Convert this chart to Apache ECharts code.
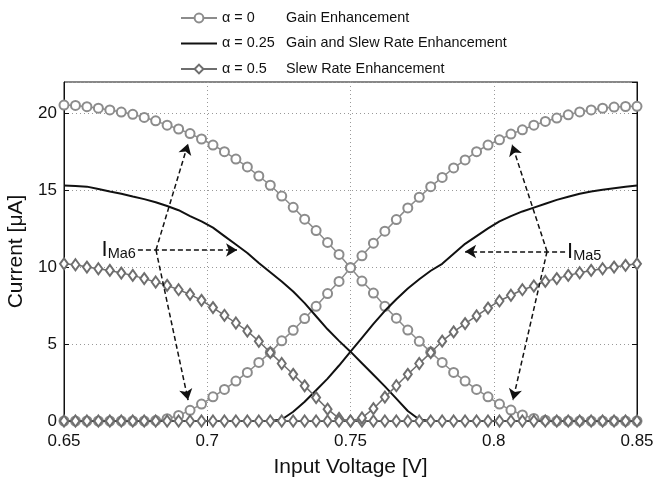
<!DOCTYPE html>
<html>
<head>
<meta charset="utf-8">
<script src="https://cdn.jsdelivr.net/npm/echarts@6/dist/echarts.min.js"></script>
<style>
  html, body { margin: 0; padding: 0; background: #fff; }
  #main { width: 657px; height: 481px; }
</style>
</head>
<body>
<div id="main"></div>
<script>
// 输入电压 (V)
var voltage = [0.650, 0.654, 0.658, 0.662, 0.666, 0.670, 0.674, 0.678, 0.682, 0.686,
               0.690, 0.694, 0.698, 0.702, 0.706, 0.710, 0.714, 0.718, 0.722, 0.726,
               0.730, 0.734, 0.738, 0.742, 0.746, 0.750, 0.754, 0.758, 0.762, 0.766,
               0.770, 0.774, 0.778, 0.782, 0.786, 0.790, 0.794, 0.798, 0.802, 0.806,
               0.810, 0.814, 0.818, 0.822, 0.826, 0.830, 0.834, 0.838, 0.842, 0.846, 0.850];

// α = 0  (IMa6 下降, IMa5 上升)
var a0Ma6 = [20.5, 20.48, 20.4, 20.3, 20.19, 20.05, 19.9, 19.7, 19.48, 19.2,
             18.95, 18.65, 18.3, 17.91, 17.48, 17.0, 16.49, 15.9, 15.3, 14.6,
             13.87, 13.1, 12.36, 11.59, 10.81, 9.95, 9.08, 8.3, 7.44, 6.67,
             5.9, 5.17, 4.47, 3.8, 3.15, 2.59, 2.05, 1.57, 1.1, 0.71,
             0.39, 0.17, 0.05, 0, 0, 0, 0, 0, 0, 0, 0];
var a0Ma5 = [0, 0, 0, 0, 0, 0, 0, 0, 0.03, 0.15,
             0.36, 0.69, 1.1, 1.57, 2.05, 2.59, 3.15, 3.8, 4.45, 5.2,
             5.89, 6.65, 7.44, 8.27, 9.06, 9.95, 10.72, 11.54, 12.32, 13.07,
             13.83, 14.52, 15.21, 15.81, 16.42, 16.94, 17.48, 17.91, 18.25, 18.62,
             18.9, 19.2, 19.44, 19.66, 19.87, 20.06, 20.19, 20.3, 20.37, 20.41, 20.42];

// α = 0.25
var a25Ma6 = [15.28, 15.25, 15.21, 15.05, 14.89, 14.75, 14.57, 14.4, 14.2, 13.95,
              13.68, 13.3, 12.95, 12.55, 12.0, 11.45, 10.9, 10.25, 9.65, 9.05,
              8.4, 7.65, 6.8, 5.95, 5.2, 4.5, 3.75, 3.0, 2.25, 1.45,
              0.65, 0.1, 0, 0, 0, 0, 0, 0, 0, 0,
              0, 0, 0, 0, 0, 0, 0, 0, 0, 0, 0];
var a25Ma5 = [0, 0, 0, 0, 0, 0, 0, 0, 0, 0,
              0, 0, 0, 0, 0, 0, 0, 0, 0, 0.1,
              0.6, 1.25, 2.0, 2.75, 3.6, 4.5, 5.4, 6.3, 7.15, 7.9,
              8.6, 9.2, 9.75, 10.2, 10.85, 11.5, 12.0, 12.5, 12.95, 13.3,
              13.6, 13.85, 14.1, 14.35, 14.55, 14.75, 14.9, 15.0, 15.1, 15.2, 15.28];

// α = 0.5
var a5Ma6 = [10.2, 10.14, 9.99, 9.88, 9.77, 9.6, 9.45, 9.24, 9.02, 8.8,
             8.52, 8.22, 7.83, 7.36, 6.86, 6.36, 5.84, 5.17, 4.44, 3.73,
             3.03, 2.28, 1.52, 0.77, 0.17, 0, 0, 0, 0, 0,
             0, 0, 0, 0, 0, 0, 0, 0, 0, 0,
             0, 0, 0, 0, 0, 0, 0, 0, 0, 0, 0];
var a5Ma5 = [0, 0, 0, 0, 0, 0, 0, 0, 0, 0,
             0, 0, 0, 0, 0, 0, 0, 0, 0, 0,
             0, 0, 0, 0, 0, 0, 0.2, 0.8, 1.55, 2.29,
             3.03, 3.73, 4.44, 5.18, 5.78, 6.32, 6.82, 7.33, 7.79, 8.16,
             8.52, 8.76, 9.06, 9.24, 9.45, 9.62, 9.77, 9.88, 9.99, 10.1, 10.2];

// 图例文字
var legendNames = ['α = 0', 'α = 0.25', 'α = 0.5'];
var legendDesc = ['Gain Enhancement', 'Gain and Slew Rate Enhancement', 'Slew Rate Enhancement'];

// 坐标轴刻度
var xTicks = [0.65, 0.85, 0.05];
var yTicks = [0, 22, 5];

// 标注: 起点, 交点, 三个箭头终点
var ma6Start = [0.6758, 11.1], ma6Join = [0.6821, 11.1];
var ma6Tips = [[0.7104, 11.1], [0.6933, 18.0], [0.6933, 1.36]];
var ma5Start = [0.8249, 11.0], ma5Join = [0.8186, 11.0];
var ma5Tips = [[0.790, 11.0], [0.8064, 17.93], [0.8067, 1.36]];

var FONT = 'Liberation Sans, Arial, sans-serif';
var myChart = echarts.init(document.getElementById('main'));

function pairs(ys) {
    var out = [];
    for (var i = 0; i < voltage.length; i++) out.push([voltage[i], ys[i]]);
    return out;
}

function circleSeries(ys) {
    return {
        name: legendNames[0], type: 'line', data: pairs(ys),
        symbol: 'emptyCircle', symbolSize: 9, showAllSymbol: true,
        lineStyle: { color: '#8c8c8c', width: 1.5 },
        itemStyle: { color: '#8c8c8c', borderWidth: 1.3 },
        animation: false, z: 2
    };
}
function blackSeries(ys) {
    return {
        name: legendNames[1], type: 'line', data: pairs(ys),
        symbol: 'none', showSymbol: false,
        lineStyle: { color: '#111', width: 2 },
        itemStyle: { color: '#111' },
        animation: false, z: 3
    };
}
function diamondSeries(ys) {
    return {
        name: legendNames[2], type: 'line', data: pairs(ys),
        symbol: 'emptyDiamond', symbolSize: [8, 11], showAllSymbol: true,
        lineStyle: { color: '#6e6e6e', width: 1.5 },
        itemStyle: { color: '#6e6e6e', borderWidth: 1.3 },
        animation: false, z: 4
    };
}

function arrowLines(start, join, tips) {
    return [
        [{ coord: start, symbol: 'none' }, { coord: tips[0], symbol: 'arrow' }],
        [{ coord: join, symbol: 'none' }, { coord: tips[1], symbol: 'arrow' }],
        [{ coord: join, symbol: 'none' }, { coord: tips[2], symbol: 'arrow' }]
    ];
}

var annot = {
    name: 'annot', type: 'line', data: [], animation: false, z: 6,
    markLine: {
        silent: true, animation: false,
        symbolSize: [10, 11],
        lineStyle: { color: '#111', width: 1.5, type: [5, 3] },
        label: { show: false },
        data: arrowLines(ma6Start, ma6Join, ma6Tips).concat(arrowLines(ma5Start, ma5Join, ma5Tips))
    },
    markPoint: {
        silent: true, animation: false,
        symbol: 'circle', symbolSize: 0,
        label: {
            show: true, color: '#111', fontFamily: FONT,
            rich: {
                i: { fontSize: 22, lineHeight: 24, fontFamily: FONT, color: '#111' },
                s: { fontSize: 14.5, lineHeight: 15, verticalAlign: 'bottom', fontFamily: FONT, color: '#111' }
            }
        },
        data: [
            { coord: ma6Start, label: { position: 'left', distance: 2, formatter: '{i|I}{s|Ma6}' } },
            { coord: ma5Start, label: { position: 'right', distance: 2, formatter: '{i|I}{s|Ma5}' } }
        ]
    }
};

var option = {
    backgroundColor: '#fff',
    animation: false,
    textStyle: { fontFamily: FONT },
    grid: {
        left: 64, right: 20, top: 82, bottom: 60, outerBoundsMode: 'none',
        show: true, borderColor: '#111', borderWidth: 1
    },
    legend: {
        data: [
            { name: legendNames[0] },
            { name: legendNames[1], itemStyle: { opacity: 0 } },
            { name: legendNames[2] }
        ],
        orient: 'vertical', left: 175, top: 6,
        itemWidth: 36, itemHeight: 11, itemGap: 11.5,
        selectedMode: false,
        formatter: function (name) {
            var k = legendNames.indexOf(name);
            return '{a|' + name + '}{b|' + legendDesc[k] + '}';
        },
        textStyle: {
            fontFamily: FONT, color: '#111',
            rich: {
                a: { width: 64, fontSize: 14.4, lineHeight: 16, fontFamily: FONT, color: '#111' },
                b: { fontSize: 14.4, lineHeight: 16, fontFamily: FONT, color: '#111' }
            }
        }
    },
    xAxis: [{
        type: 'value', min: xTicks[0], max: xTicks[1], interval: xTicks[2],
        name: 'Input Voltage [V]', nameLocation: 'middle', nameGap: 36,
        nameTextStyle: { fontSize: 21, color: '#111', fontFamily: FONT },
        axisLine: { lineStyle: { color: '#111' } },
        axisTick: { inside: true, length: 5, lineStyle: { color: '#111' } },
        axisLabel: { fontSize: 17, color: '#111', margin: 12, fontFamily: FONT },
        splitLine: { show: true, lineStyle: { color: '#999', type: [1, 3] } }
    }, {
        type: 'value', position: 'top', min: xTicks[0], max: xTicks[1], interval: xTicks[2],
        axisLine: { lineStyle: { color: '#111' } },
        axisTick: { inside: true, length: 5, lineStyle: { color: '#111' } },
        axisLabel: { show: false }, splitLine: { show: false }
    }],
    yAxis: [{
        type: 'value', min: yTicks[0], max: yTicks[1], interval: yTicks[2],
        name: 'Current [μA]', nameLocation: 'middle', nameGap: 37,
        nameTextStyle: { fontSize: 21, color: '#111', fontFamily: FONT },
        axisLine: { show: true, lineStyle: { color: '#111' } },
        axisTick: { show: true, inside: true, length: 5, lineStyle: { color: '#111' } },
        axisLabel: { fontSize: 17, color: '#111', margin: 7, fontFamily: FONT, showMaxLabel: false },
        splitLine: { show: true, lineStyle: { color: '#999', type: [1, 3] } }
    }, {
        type: 'value', position: 'right', min: yTicks[0], max: yTicks[1], interval: yTicks[2],
        axisLine: { show: true, lineStyle: { color: '#111' } },
        axisTick: { show: true, inside: true, length: 5, lineStyle: { color: '#111' } },
        axisLabel: { show: false }, splitLine: { show: false }
    }],
    series: [
        circleSeries(a0Ma6), circleSeries(a0Ma5),
        blackSeries(a25Ma6), blackSeries(a25Ma5),
        diamondSeries(a5Ma6), diamondSeries(a5Ma5),
        annot
    ]
};

if (option && typeof option === "object") {
    myChart.setOption(option, true);
}
</script>
</body>
</html>
